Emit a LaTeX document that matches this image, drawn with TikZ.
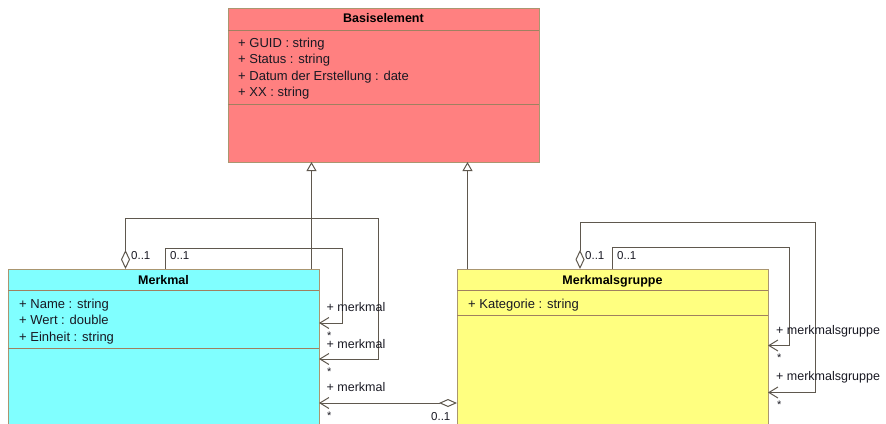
\documentclass[tikz,border=0pt]{standalone}
\usepackage{fontspec}
\setmainfont{Liberation Sans}
\usetikzlibrary{arrows.meta,calc}
\definecolor{redfill}{RGB}{255,128,128}
\definecolor{cyanfill}{RGB}{128,255,255}
\definecolor{yellowfill}{RGB}{255,255,128}
\definecolor{boxline}{RGB}{170,150,112}
\definecolor{sepcol}{RGB}{160,128,96}
\definecolor{connline}{RGB}{95,88,78}
\definecolor{txt}{RGB}{25,25,35}
\begin{document}
\begin{tikzpicture}[x=1pt,y=-1pt,
  classbox/.style={draw=boxline, line width=1pt, anchor=north west, inner sep=0pt, outer sep=0pt, minimum width=311pt},
  sepline/.style={draw=sepcol, line width=1pt},
  ctitle/.style={font=\bfseries\fontsize{12.5}{14}\selectfont, anchor=base, inner sep=0pt, text=black},
  attr/.style={font=\fontsize{13}{15}\selectfont, anchor=base west, inner sep=0pt, text=txt},
  lbl/.style={font=\fontsize{12.5}{14}\selectfont, anchor=base west, inner sep=0pt, text=txt},
  starlbl/.style={font=\fontsize{11}{13}\selectfont, anchor=base west, inner sep=0pt, text=txt},
  mult/.style={font=\fontsize{11.5}{13}\selectfont, anchor=base west, inner sep=0pt, text=txt},
  conn/.style={draw=connline, line width=1pt},
  gen/.style={conn, -{Triangle[open, length=9pt, width=10pt, fill=white]}},
  selfassoc/.style={conn, {Diamond[open, length=19pt, width=9pt, fill=white]}-{Straight Barb[length=9pt, width=11pt]}},
  plainassoc/.style={conn, -{Straight Barb[length=9pt, width=11pt]}},
  aggr/.style={conn, {Diamond[open, length=18pt, width=8pt, fill=white]}-{Straight Barb[length=9pt, width=11pt]}}
]
\useasboundingbox (0,0) rectangle (886,423);
\clip (0,0) rectangle (886,423);

% ---- class Basiselement ----
\node[classbox, fill=redfill, minimum height=154pt] (base) at (228,8) {};
\draw[sepline] ($(base.north west)+(0,22)$) -- ($(base.north east)+(0,22)$);
\draw[sepline] ($(base.north west)+(0,96)$) -- ($(base.north east)+(0,96)$);
\node[ctitle] (baseTitle) at (383.5,23) {Basiselement};
\node[attr] (baseA1) at (238,47) {+ GUID : string};
\node[attr] (baseA2) at (238,63.5) {+ Status : string};
\node[attr] (baseA3) at (238,80) {+ Datum der Erstellung : date};
\node[attr] (baseA4) at (238,96.5) {+ XX : string};

% ---- class Merkmal ----
\node[classbox, fill=cyanfill, minimum height=175pt] (mm) at (8,269) {};
\draw[sepline] ($(mm.north west)+(0,21.5)$) -- ($(mm.north east)+(0,21.5)$);
\draw[sepline] ($(mm.north west)+(0,79)$) -- ($(mm.north east)+(0,79)$);
\node[ctitle] (mmTitle) at (163.5,284.5) {Merkmal};
\node[attr] (mmA1) at (19,308.5) {+ Name : string};
\node[attr] (mmA2) at (19,324.5) {+ Wert : double};
\node[attr] (mmA3) at (19,341) {+ Einheit : string};

% ---- class Merkmalsgruppe ----
\node[classbox, fill=yellowfill, minimum height=175pt] (mg) at (457,269) {};
\draw[sepline] ($(mg.north west)+(0,21.5)$) -- ($(mg.north east)+(0,21.5)$);
\draw[sepline] ($(mg.north west)+(0,46)$) -- ($(mg.north east)+(0,46)$);
\node[ctitle] (mgTitle) at (612.5,284.5) {Merkmalsgruppe};
\node[attr] (mgA1) at (468,308.5) {+ Kategorie : string};

% ---- generalizations ----
\draw[gen] (311.5,0 |- mm.north) -- (311.5,0 |- base.south);
\draw[gen] (467.5,0 |- mg.north) -- (467.5,0 |- base.south);

% ---- Merkmal self associations ----
\draw[selfassoc] (125.5,0 |- mm.north) |- (378,218) |- (mm.east |- 0,359);
\draw[plainassoc] (165.5,0 |- mm.north) |- (342.5,248) |- (mm.east |- 0,323);
\node[mult] (mmM1) at (131,259.5) {0..1};
\node[mult] (mmM2) at (170,259.5) {0..1};
\node[lbl] (mmR1) at (326.5,311.5) {+ merkmal};
\node[starlbl] (mmS1) at (327,339) {*};
\node[lbl] (mmR2) at (326.5,348) {+ merkmal};
\node[starlbl] (mmS2) at (327,375.5) {*};

% ---- aggregation Merkmalsgruppe -> Merkmal ----
\draw[aggr] (mg.west |- 0,403) -- (mm.east |- 0,403);
\node[lbl] (agR) at (326.5,391.5) {+ merkmal};
\node[starlbl] (agS) at (327,419.5) {*};
\node[mult] (agM) at (431,420.5) {0..1};

% ---- Merkmalsgruppe self associations ----
\draw[selfassoc] (580,0 |- mg.north) |- (815.5,222) |- (mg.east |- 0,392.5);
\draw[plainassoc] (612,0 |- mg.north) |- (789,247) |- (mg.east |- 0,345.5);
\node[mult] (mgM1) at (585,259.5) {0..1};
\node[mult] (mgM2) at (617,259.5) {0..1};
\node[lbl] (mgR1) at (776,334) {+ merkmalsgruppe};
\node[starlbl] (mgS1) at (777,361.5) {*};
\node[lbl] (mgR2) at (776,380.5) {+ merkmalsgruppe};
\node[starlbl] (mgS2) at (777,408.5) {*};
\end{tikzpicture}
\end{document}
